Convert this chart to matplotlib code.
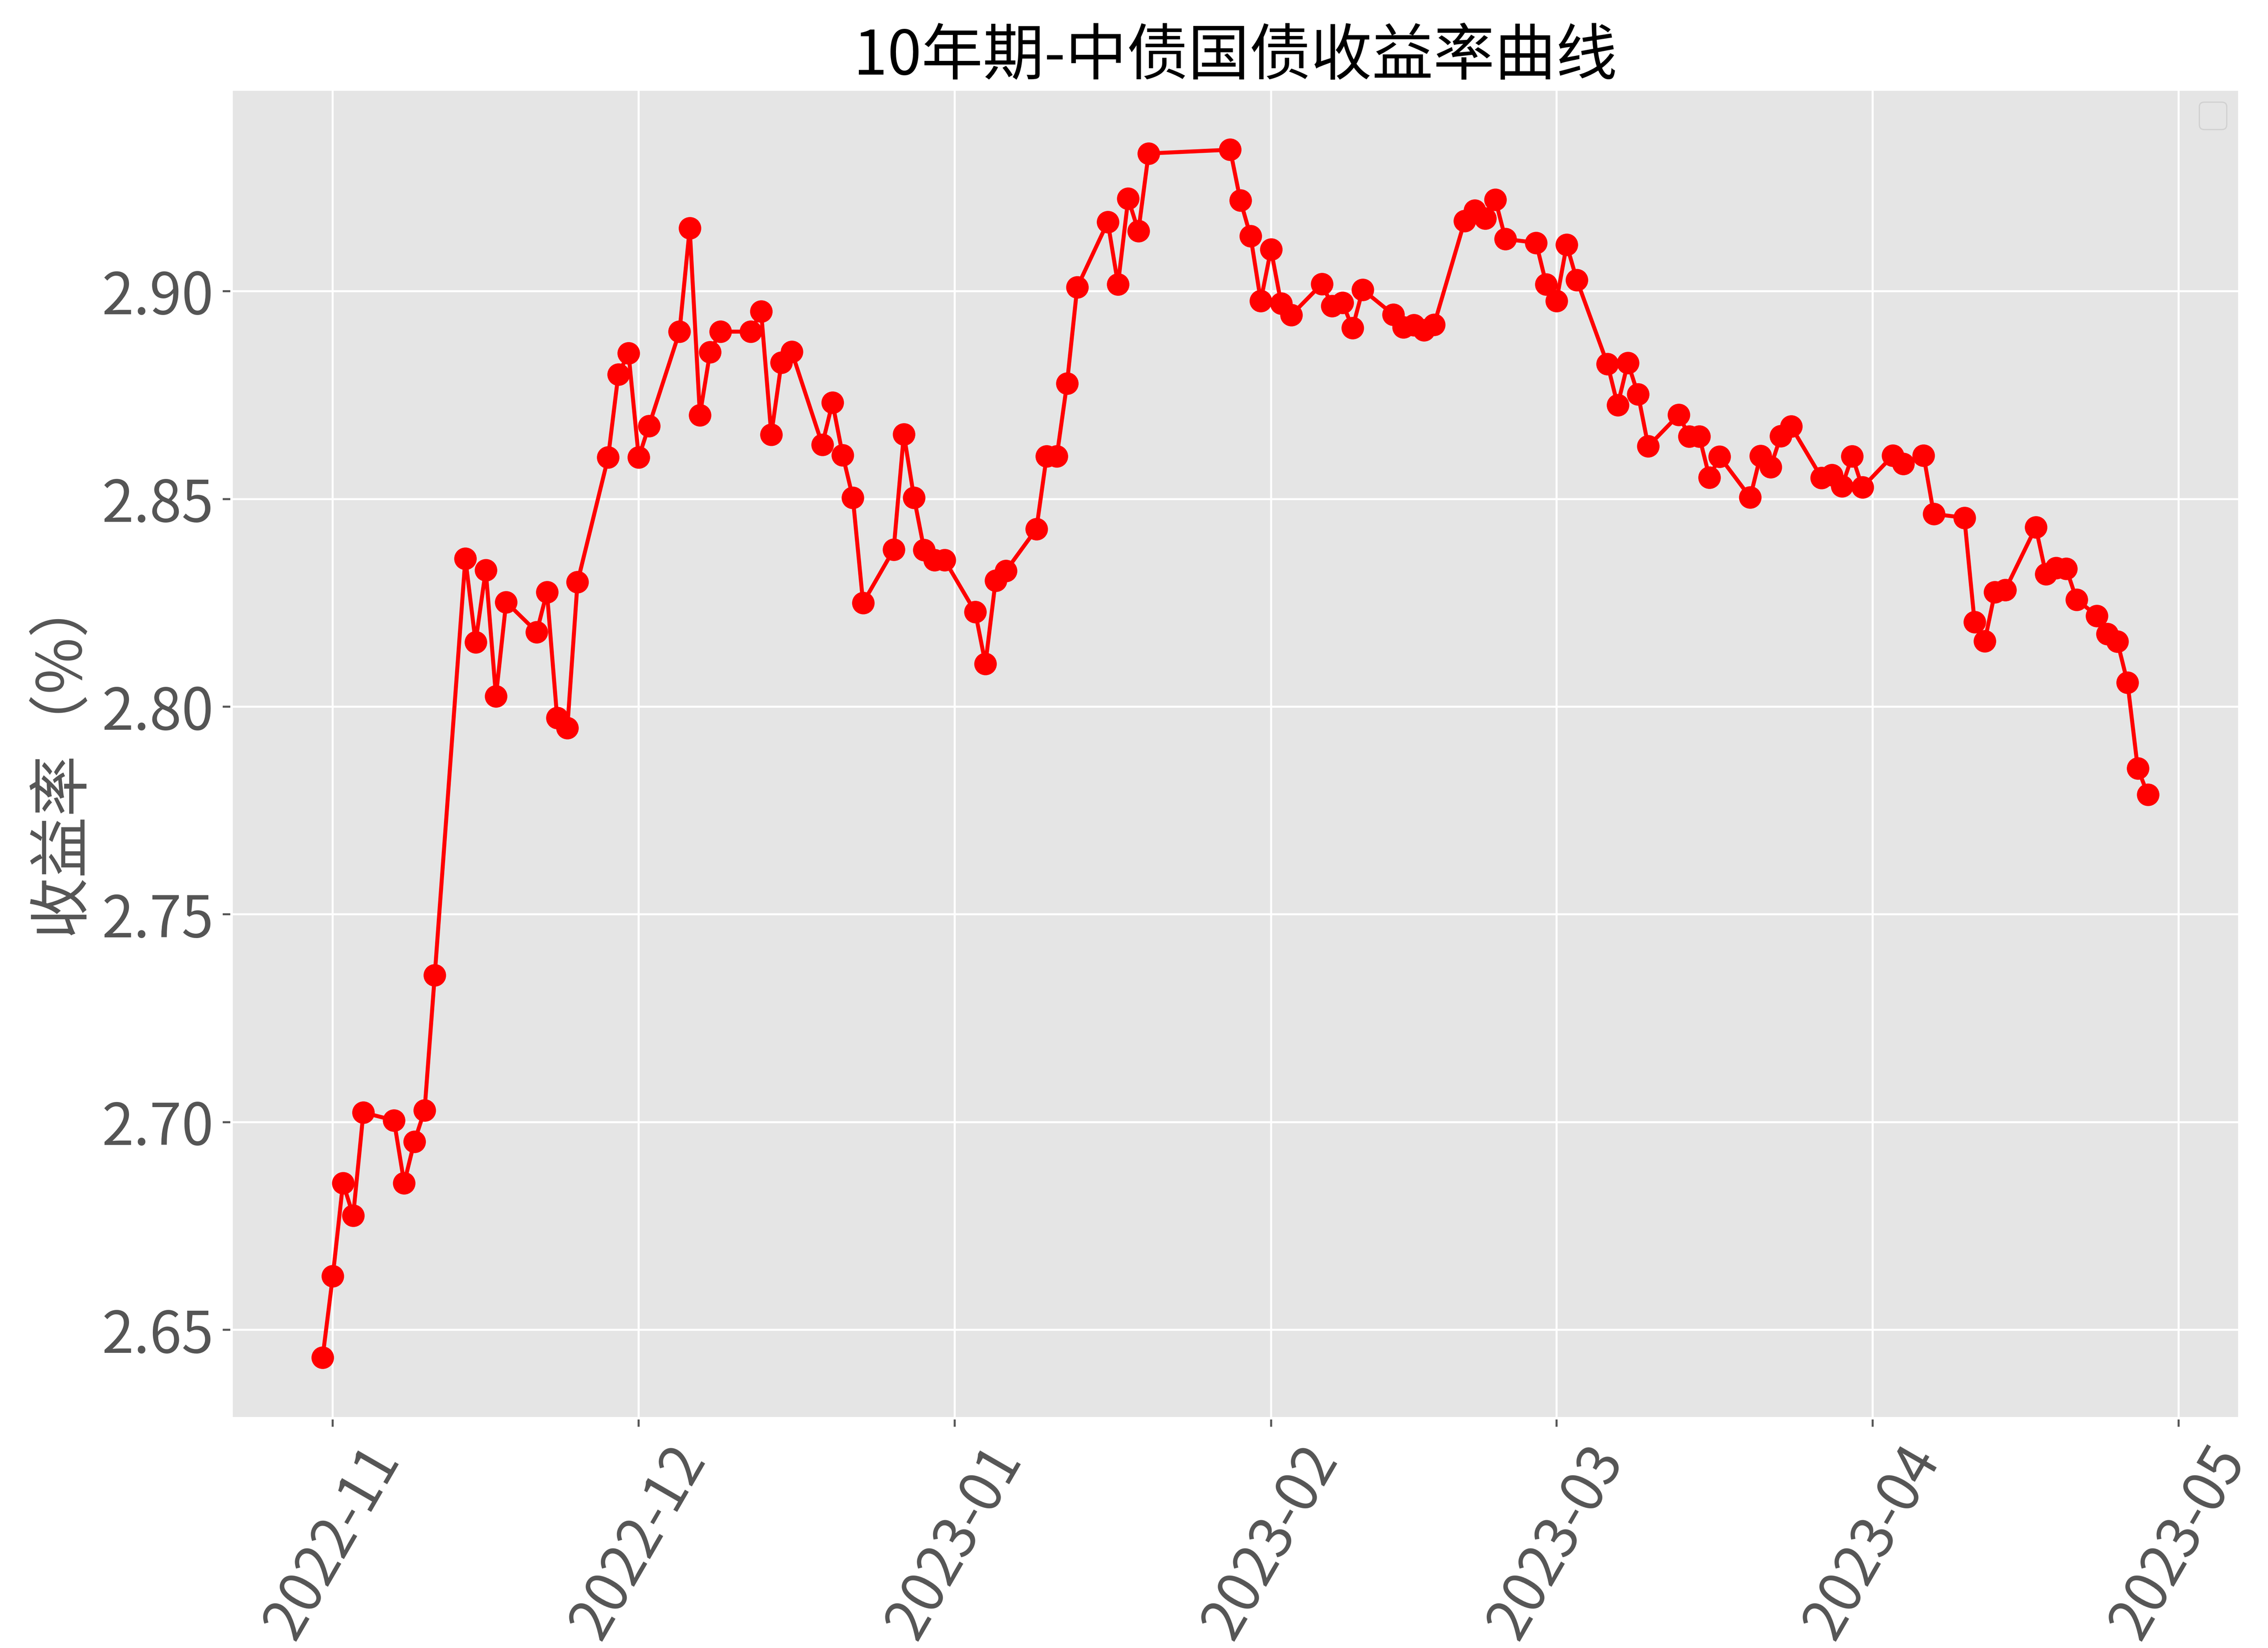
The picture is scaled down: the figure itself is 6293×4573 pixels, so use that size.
import matplotlib
matplotlib.use("Agg")
import matplotlib.pyplot as plt
import matplotlib.dates as mdates
import pandas as pd

# 10Y China government bond yield
dates = [
    "2022-10-31", "2022-11-01", "2022-11-02", "2022-11-03", "2022-11-04",
    "2022-11-07", "2022-11-08", "2022-11-09", "2022-11-10", "2022-11-11",
    "2022-11-14", "2022-11-15", "2022-11-16", "2022-11-17", "2022-11-18",
    "2022-11-21", "2022-11-22", "2022-11-23", "2022-11-24", "2022-11-25",
    "2022-11-28", "2022-11-29", "2022-11-30", "2022-12-01", "2022-12-02",
    "2022-12-05", "2022-12-06", "2022-12-07", "2022-12-08", "2022-12-09",
    "2022-12-12", "2022-12-13", "2022-12-14", "2022-12-15", "2022-12-16",
    "2022-12-19", "2022-12-20", "2022-12-21", "2022-12-22", "2022-12-23",
    "2022-12-26", "2022-12-27", "2022-12-28", "2022-12-29", "2022-12-30",
    "2022-12-31", "2023-01-03", "2023-01-04", "2023-01-05", "2023-01-06",
    "2023-01-09", "2023-01-10", "2023-01-11", "2023-01-12", "2023-01-13",
    "2023-01-16", "2023-01-17", "2023-01-18", "2023-01-19", "2023-01-20",
    "2023-01-28", "2023-01-29", "2023-01-30", "2023-01-31", "2023-02-01",
    "2023-02-02", "2023-02-03", "2023-02-06", "2023-02-07", "2023-02-08",
    "2023-02-09", "2023-02-10", "2023-02-13", "2023-02-14", "2023-02-15",
    "2023-02-16", "2023-02-17", "2023-02-20", "2023-02-21", "2023-02-22",
    "2023-02-23", "2023-02-24", "2023-02-27", "2023-02-28", "2023-03-01",
    "2023-03-02", "2023-03-03", "2023-03-06", "2023-03-07", "2023-03-08",
    "2023-03-09", "2023-03-10", "2023-03-13", "2023-03-14", "2023-03-15",
    "2023-03-16", "2023-03-17", "2023-03-20", "2023-03-21", "2023-03-22",
    "2023-03-23", "2023-03-24", "2023-03-27", "2023-03-28", "2023-03-29",
    "2023-03-30", "2023-03-31", "2023-04-03", "2023-04-04", "2023-04-06",
    "2023-04-07", "2023-04-10", "2023-04-11", "2023-04-12", "2023-04-13",
    "2023-04-14", "2023-04-17", "2023-04-18", "2023-04-19", "2023-04-20",
    "2023-04-21", "2023-04-23", "2023-04-24", "2023-04-25", "2023-04-26",
    "2023-04-27", "2023-04-28",
]
yields = [
    2.6433, 2.6629, 2.6853, 2.6775, 2.7023,
    2.7004, 2.6853, 2.6953, 2.7028, 2.7354,
    2.8357, 2.8155, 2.8329, 2.8025, 2.8252,
    2.8180, 2.8276, 2.7973, 2.7949, 2.8300,
    2.8600, 2.8800, 2.8851, 2.8600, 2.8676,
    2.8903, 2.9152, 2.8702, 2.8854, 2.8903,
    2.8903, 2.8952, 2.8655, 2.8829, 2.8855,
    2.8631, 2.8732, 2.8606, 2.8503, 2.8250,
    2.8378, 2.8656, 2.8503, 2.8377, 2.8353,
    2.8353, 2.8228, 2.8103, 2.8304, 2.8327,
    2.8428, 2.8603, 2.8603, 2.8778, 2.9010,
    2.9167, 2.9017, 2.9223, 2.9145, 2.9332,
    2.9341, 2.9219, 2.9133, 2.8977, 2.9101,
    2.8971, 2.8943, 2.9018, 2.8965, 2.8973,
    2.8912, 2.9004, 2.8944, 2.8914, 2.8919,
    2.8907, 2.8920, 2.9170, 2.9195, 2.9176,
    2.9221, 2.9126, 2.9117, 2.9017, 2.8977,
    2.9112, 2.9027, 2.8825, 2.8726, 2.8828,
    2.8752, 2.8627, 2.8703, 2.8651, 2.8651,
    2.8552, 2.8602, 2.8504, 2.8604, 2.8577,
    2.8652, 2.8675, 2.8551, 2.8558, 2.8531,
    2.8603, 2.8528, 2.8605, 2.8585, 2.8605,
    2.8464, 2.8455, 2.8204, 2.8158, 2.8276,
    2.8281, 2.8432, 2.8319, 2.8334, 2.8332,
    2.8258, 2.8219, 2.8175, 2.8157, 2.8058,
    2.7852, 2.7788,
]

title = "10年期-中债国债收益率曲线"
ylabel = "收益率（%）"

plt.style.use("ggplot")
plt.rcParams["font.family"] = ["Noto Sans CJK SC", "DejaVu Sans"]
plt.rcParams["axes.unicode_minus"] = False

x = pd.to_datetime(dates)

fig = plt.figure(figsize=(6293 / 500, 4573 / 500), dpi=500)
ax = fig.add_subplot(111)
fig.subplots_adjust(left=0.102, right=0.9873, bottom=0.1396, top=0.9458)

ax.plot(x, yields, color="red", marker="o", markersize=8, linewidth=1.6)

ax.xaxis.set_major_locator(mdates.MonthLocator())
ax.xaxis.set_major_formatter(mdates.DateFormatter("%Y-%m"))
plt.xticks(rotation=60, fontsize=23)
plt.yticks(fontsize=23)
ax.yaxis.set_major_formatter(matplotlib.ticker.FormatStrFormatter("%.2f"))

ax.set_title(title, fontsize=24.5, color="black")
ax.set_ylabel(ylabel, fontsize=24.5)
# empty legend box, as in the original
ax.legend(loc="upper right", borderpad=0.55)

fig.savefig("out.png", dpi=500)
